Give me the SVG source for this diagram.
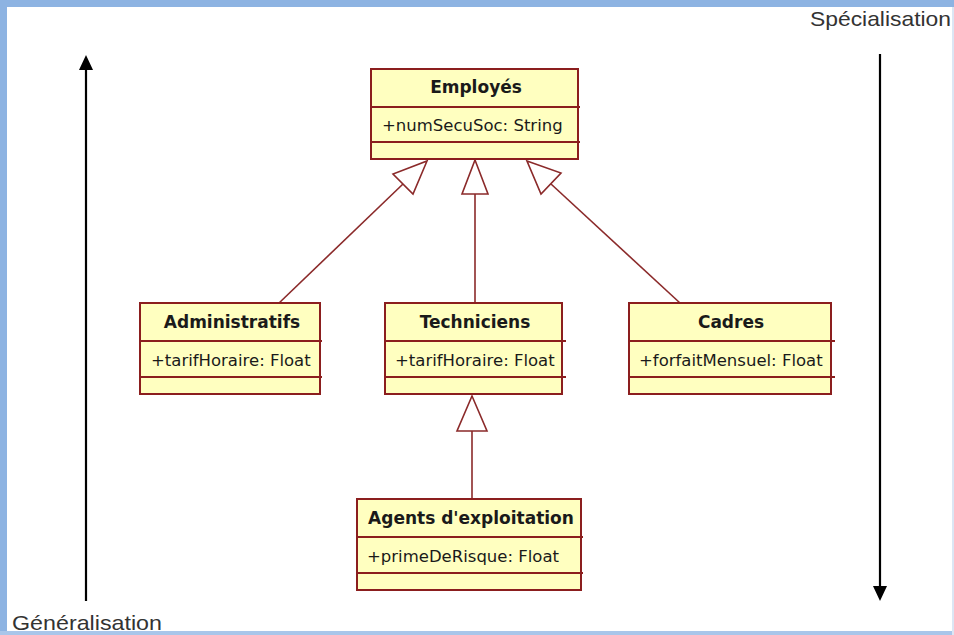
<svg xmlns="http://www.w3.org/2000/svg" width="954" height="635" viewBox="0 0 954 635">
  <defs>
    <style>
      .box { fill: #FFFFC0; stroke: #8B1E1E; stroke-width: 2; }
      .sep { stroke: #8B1E1E; stroke-width: 2; }
      .name { font-family: "DejaVu Sans", Verdana, sans-serif; font-weight: bold; font-size: 17px; fill: #1a1a1a; text-anchor: middle; }
      .attr { font-family: "DejaVu Sans", Verdana, sans-serif; font-size: 16.5px; fill: #1a1a1a; }
      .gen { fill: none; stroke: #8B2A2A; stroke-width: 1.6; }
      .head { fill: #ffffff; stroke: #8B2A2A; stroke-width: 1.6; stroke-linejoin: miter; }
      .axis { stroke: #000000; stroke-width: 2.2; }
      .axis-label { font-family: "Liberation Sans", Arial, sans-serif; font-size: 21px; fill: #333333; }
    </style>
  </defs>

  <!-- page background and frame -->
  <rect x="0" y="0" width="954" height="635" fill="#ffffff"/>
  <rect x="0" y="0" width="954" height="7" fill="#8DB3E2"/>
  <rect x="0" y="0" width="7" height="635" fill="#8DB3E2"/>
  <rect x="0" y="631" width="954" height="4" fill="#A9C6EA"/>
  <rect x="952" y="7" width="2" height="628" fill="#DCE6F4"/>

  <!-- axis arrows -->
  <g id="axes">
    <line class="axis" x1="86" y1="68" x2="86" y2="601"/>
    <polygon points="86,55 79,70 93,70" fill="#000000"/>
    <line class="axis" x1="880" y1="54" x2="880" y2="588"/>
    <polygon points="880,601 873,586 887,586" fill="#000000"/>
    <text class="axis-label" x="810" y="26" textLength="141" lengthAdjust="spacingAndGlyphs">Spécialisation</text>
    <text class="axis-label" x="12" y="630" textLength="150" lengthAdjust="spacingAndGlyphs">Généralisation</text>
  </g>

  <!-- generalisation connectors -->
  <g id="connectors">
    <line class="gen" x1="403" y1="184" x2="278" y2="304"/>
    <polygon class="head" points="427,161 413,194 393,174"/>
    <line class="gen" x1="475" y1="194" x2="475" y2="303"/>
    <polygon class="head" points="475,160 488,194 462,194"/>
    <line class="gen" x1="551" y1="184" x2="680" y2="303"/>
    <polygon class="head" points="527,161 561,173 541,194"/>
    <line class="gen" x1="472" y1="431" x2="472" y2="499"/>
    <polygon class="head" points="472,396 487,431 457,431"/>
  </g>

  <!-- Employés -->
  <g id="employes">
    <rect class="box" x="371" y="69" width="207" height="90"/>
    <line class="sep" x1="371" y1="107" x2="580" y2="107"/>
    <line class="sep" x1="371" y1="142" x2="580" y2="142"/>
    <text class="name" x="476" y="93">Employés</text>
    <text class="attr" x="382" y="131">+numSecuSoc: String</text>
  </g>

  <!-- Administratifs -->
  <g id="administratifs">
    <rect class="box" x="140" y="303" width="180" height="91"/>
    <line class="sep" x1="140" y1="341" x2="322" y2="341"/>
    <line class="sep" x1="140" y1="377" x2="322" y2="377"/>
    <text class="name" x="232" y="328">Administratifs</text>
    <text class="attr" x="151" y="366">+tarifHoraire: Float</text>
  </g>

  <!-- Techniciens -->
  <g id="techniciens">
    <rect class="box" x="385" y="303" width="177" height="91"/>
    <line class="sep" x1="385" y1="341" x2="566" y2="341"/>
    <line class="sep" x1="385" y1="377" x2="566" y2="377"/>
    <text class="name" x="475" y="328">Techniciens</text>
    <text class="attr" x="395" y="366">+tarifHoraire: Float</text>
  </g>

  <!-- Cadres -->
  <g id="cadres">
    <rect class="box" x="629" y="303" width="202" height="91"/>
    <line class="sep" x1="629" y1="341" x2="835" y2="341"/>
    <line class="sep" x1="629" y1="377" x2="835" y2="377"/>
    <text class="name" x="731" y="328">Cadres</text>
    <text class="attr" x="639" y="366">+forfaitMensuel: Float</text>
  </g>

  <!-- Agents d'exploitation -->
  <g id="agents">
    <rect class="box" x="357" y="499" width="224" height="91"/>
    <line class="sep" x1="357" y1="537" x2="583" y2="537"/>
    <line class="sep" x1="357" y1="573" x2="583" y2="573"/>
    <text class="name" x="471" y="524">Agents d'exploitation</text>
    <text class="attr" x="367" y="562">+primeDeRisque: Float</text>
  </g>
</svg>
